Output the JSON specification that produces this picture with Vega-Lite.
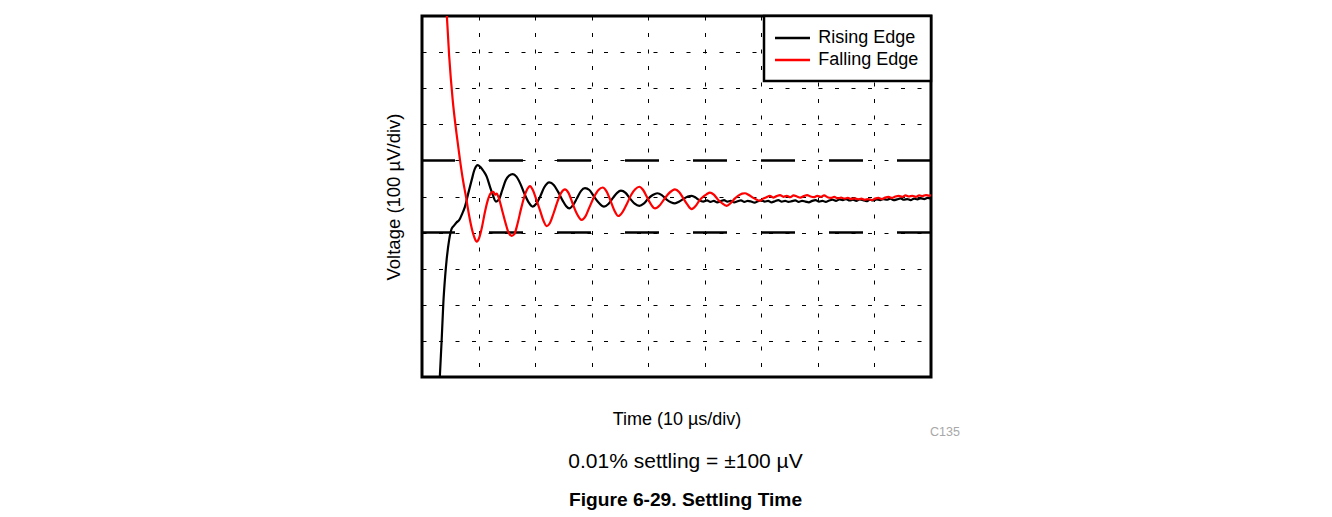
{
 "$schema": "https://vega.github.io/schema/vega-lite/v6.json",
 "width": 509,
 "height": 361,
 "autosize": {"type": "none"},
 "padding": {"left": 422, "top": 16, "right": 401, "bottom": 140},
 "background": "white",
 "config": {
  "font": "Liberation Sans",
  "view": {"stroke": "black", "strokeWidth": 3},
  "axis": {"labels": false, "ticks": false, "domain": false, "grid": true, "gridColor": "black", "gridDash": [4, 12.5], "gridWidth": 1, "gridOpacity": 1, "titleFontSize": 18, "titleFontWeight": "normal", "titleColor": "black", "titleFont": "Liberation Sans"}
 },
 "title": {"text": "0.01% settling = ±100 µV", "subtitle": "Figure 6-29. Settling Time", "orient": "bottom", "anchor": "middle", "frame": "group", "dx": 9, "font": "Liberation Sans", "fontSize": 21, "fontWeight": "normal", "color": "black", "subtitleFont": "Liberation Sans", "subtitleFontSize": 19.2, "subtitleFontWeight": "bold", "subtitleColor": "black", "offset": 12, "subtitlePadding": 19},
 "datasets": {
  "limits": [{"level": 100}, {"level": -100}],
  "notes": [{"label": "C135"}],
  "traces": [
   {"series":"Rising Edge","t":3.15,"v":-500},{"series":"Rising Edge","t":3.5,"v":-390},{"series":"Rising Edge","t":3.77,"v":-296},{"series":"Rising Edge","t":4.1,"v":-220},{"series":"Rising Edge","t":4.37,"v":-173},{"series":"Rising Edge","t":4.8,"v":-120},{"series":"Rising Edge","t":5.25,"v":-89},{"series":"Rising Edge","t":5.7,"v":-80},{"series":"Rising Edge","t":6.1,"v":-72},{"series":"Rising Edge","t":6.59,"v":-65},{"series":"Rising Edge","t":7.1,"v":-48},{"series":"Rising Edge","t":7.6,"v":-28},{"series":"Rising Edge","t":8.2,"v":10},{"series":"Rising Edge","t":8.79,"v":46},{"series":"Rising Edge","t":9.3,"v":75},{"series":"Rising Edge","t":9.85,"v":87},{"series":"Rising Edge","t":10.3,"v":82},{"series":"Rising Edge","t":10.9,"v":70},{"series":"Rising Edge","t":11.44,"v":55},{"series":"Rising Edge","t":12.0,"v":28},{"series":"Rising Edge","t":12.5,"v":5},{"series":"Rising Edge","t":13.08,"v":-14},{"series":"Rising Edge","t":13.6,"v":-8},{"series":"Rising Edge","t":14.2,"v":18},{"series":"Rising Edge","t":14.8,"v":45},{"series":"Rising Edge","t":15.4,"v":58},{"series":"Rising Edge","t":16.04,"v":62},{"series":"Rising Edge","t":16.7,"v":55},{"series":"Rising Edge","t":17.4,"v":35},{"series":"Rising Edge","t":18.1,"v":8},{"series":"Rising Edge","t":18.8,"v":-15},{"series":"Rising Edge","t":19.57,"v":-28},{"series":"Rising Edge","t":20.2,"v":-20},{"series":"Rising Edge","t":20.9,"v":0},{"series":"Rising Edge","t":21.6,"v":25},{"series":"Rising Edge","t":22.51,"v":39},{"series":"Rising Edge","t":23.3,"v":32},{"series":"Rising Edge","t":24.1,"v":12},{"series":"Rising Edge","t":24.9,"v":-12},{"series":"Rising Edge","t":25.5,"v":-27},{"series":"Rising Edge","t":26.05,"v":-33},{"series":"Rising Edge","t":26.7,"v":-24},{"series":"Rising Edge","t":27.4,"v":-5},{"series":"Rising Edge","t":28.1,"v":15},{"series":"Rising Edge","t":28.82,"v":23},{"series":"Rising Edge","t":29.6,"v":18},{"series":"Rising Edge","t":30.4,"v":0},{"series":"Rising Edge","t":31.3,"v":-18},{"series":"Rising Edge","t":32.18,"v":-28},{"series":"Rising Edge","t":33.0,"v":-20},{"series":"Rising Edge","t":33.8,"v":-3},{"series":"Rising Edge","t":34.5,"v":10},{"series":"Rising Edge","t":35.18,"v":16},{"series":"Rising Edge","t":36.0,"v":10},{"series":"Rising Edge","t":36.8,"v":-6},{"series":"Rising Edge","t":37.6,"v":-20},{"series":"Rising Edge","t":38.42,"v":-26},{"series":"Rising Edge","t":39.2,"v":-20},{"series":"Rising Edge","t":40.0,"v":-6},{"series":"Rising Edge","t":40.8,"v":4},{"series":"Rising Edge","t":41.6,"v":9},{"series":"Rising Edge","t":42.4,"v":4},{"series":"Rising Edge","t":43.2,"v":-8},{"series":"Rising Edge","t":44.0,"v":-16},{"series":"Rising Edge","t":44.73,"v":-19},{"series":"Rising Edge","t":45.5,"v":-14},{"series":"Rising Edge","t":46.3,"v":-6},{"series":"Rising Edge","t":47.0,"v":0},{"series":"Rising Edge","t":47.68,"v":2},{"series":"Rising Edge","t":48.4,"v":-3},{"series":"Rising Edge","t":49.0,"v":-10},{"series":"Rising Edge","t":49.73,"v":-14},{"series":"Rising Edge","t":50.4,"v":-11},{"series":"Rising Edge","t":51.0,"v":-15},{"series":"Rising Edge","t":51.6,"v":-12},{"series":"Rising Edge","t":52.2,"v":-16},{"series":"Rising Edge","t":52.8,"v":-13},{"series":"Rising Edge","t":53.4,"v":-10},{"series":"Rising Edge","t":54.0,"v":-14},{"series":"Rising Edge","t":54.6,"v":-12},{"series":"Rising Edge","t":55.2,"v":-16},{"series":"Rising Edge","t":55.8,"v":-13},{"series":"Rising Edge","t":56.4,"v":-11},{"series":"Rising Edge","t":57.0,"v":-15},{"series":"Rising Edge","t":57.6,"v":-12},{"series":"Rising Edge","t":58.2,"v":-14},{"series":"Rising Edge","t":58.8,"v":-17},{"series":"Rising Edge","t":59.4,"v":-13},{"series":"Rising Edge","t":60.0,"v":-11},{"series":"Rising Edge","t":60.6,"v":-14},{"series":"Rising Edge","t":61.2,"v":-12},{"series":"Rising Edge","t":61.8,"v":-16},{"series":"Rising Edge","t":62.4,"v":-13},{"series":"Rising Edge","t":63.0,"v":-10},{"series":"Rising Edge","t":63.6,"v":-14},{"series":"Rising Edge","t":64.2,"v":-12},{"series":"Rising Edge","t":64.8,"v":-15},{"series":"Rising Edge","t":65.4,"v":-13},{"series":"Rising Edge","t":66.0,"v":-11},{"series":"Rising Edge","t":66.6,"v":-15},{"series":"Rising Edge","t":67.2,"v":-12},{"series":"Rising Edge","t":67.8,"v":-14},{"series":"Rising Edge","t":68.4,"v":-16},{"series":"Rising Edge","t":69.0,"v":-12},{"series":"Rising Edge","t":69.6,"v":-10},{"series":"Rising Edge","t":70.2,"v":-14},{"series":"Rising Edge","t":70.8,"v":-12},{"series":"Rising Edge","t":71.4,"v":-15},{"series":"Rising Edge","t":72.0,"v":-11},{"series":"Rising Edge","t":72.6,"v":-9},{"series":"Rising Edge","t":73.2,"v":-12},{"series":"Rising Edge","t":73.8,"v":-8},{"series":"Rising Edge","t":74.4,"v":-10},{"series":"Rising Edge","t":75.0,"v":-7},{"series":"Rising Edge","t":75.6,"v":-11},{"series":"Rising Edge","t":76.2,"v":-9},{"series":"Rising Edge","t":76.8,"v":-12},{"series":"Rising Edge","t":77.4,"v":-8},{"series":"Rising Edge","t":78.0,"v":-10},{"series":"Rising Edge","t":78.6,"v":-13},{"series":"Rising Edge","t":79.2,"v":-9},{"series":"Rising Edge","t":79.8,"v":-11},{"series":"Rising Edge","t":80.4,"v":-8},{"series":"Rising Edge","t":81.0,"v":-10},{"series":"Rising Edge","t":81.6,"v":-7},{"series":"Rising Edge","t":82.2,"v":-9},{"series":"Rising Edge","t":82.8,"v":-6},{"series":"Rising Edge","t":83.4,"v":-10},{"series":"Rising Edge","t":84.0,"v":-8},{"series":"Rising Edge","t":84.6,"v":-5},{"series":"Rising Edge","t":85.2,"v":-9},{"series":"Rising Edge","t":85.8,"v":-7},{"series":"Rising Edge","t":86.4,"v":-10},{"series":"Rising Edge","t":87.0,"v":-6},{"series":"Rising Edge","t":87.6,"v":-8},{"series":"Rising Edge","t":88.2,"v":-5},{"series":"Rising Edge","t":88.8,"v":-7},{"series":"Rising Edge","t":89.4,"v":-4},{"series":"Rising Edge","t":90.0,"v":-6},
   {"series":"Falling Edge","t":4.25,"v":540},{"series":"Falling Edge","t":4.8,"v":390},{"series":"Falling Edge","t":5.43,"v":267},{"series":"Falling Edge","t":6.1,"v":175},{"series":"Falling Edge","t":6.72,"v":101},{"series":"Falling Edge","t":7.25,"v":45},{"series":"Falling Edge","t":7.78,"v":-1},{"series":"Falling Edge","t":8.3,"v":-50},{"series":"Falling Edge","t":8.9,"v":-95},{"series":"Falling Edge","t":9.3,"v":-115},{"series":"Falling Edge","t":9.67,"v":-125},{"series":"Falling Edge","t":10.1,"v":-115},{"series":"Falling Edge","t":10.6,"v":-85},{"series":"Falling Edge","t":11.1,"v":-45},{"series":"Falling Edge","t":11.6,"v":-12},{"series":"Falling Edge","t":12.1,"v":8},{"series":"Falling Edge","t":12.61,"v":13},{"series":"Falling Edge","t":12.9,"v":5},{"series":"Falling Edge","t":13.2,"v":8},{"series":"Falling Edge","t":13.6,"v":-5},{"series":"Falling Edge","t":14.2,"v":-40},{"series":"Falling Edge","t":14.8,"v":-75},{"series":"Falling Edge","t":15.3,"v":-100},{"series":"Falling Edge","t":15.86,"v":-109},{"series":"Falling Edge","t":16.3,"v":-105},{"series":"Falling Edge","t":16.9,"v":-75},{"series":"Falling Edge","t":17.5,"v":-35},{"series":"Falling Edge","t":18.1,"v":0},{"series":"Falling Edge","t":18.6,"v":20},{"series":"Falling Edge","t":19.09,"v":29},{"series":"Falling Edge","t":19.6,"v":18},{"series":"Falling Edge","t":20.2,"v":-8},{"series":"Falling Edge","t":20.9,"v":-40},{"series":"Falling Edge","t":21.5,"v":-68},{"series":"Falling Edge","t":22.05,"v":-82},{"series":"Falling Edge","t":22.6,"v":-74},{"series":"Falling Edge","t":23.3,"v":-45},{"series":"Falling Edge","t":24.0,"v":-12},{"series":"Falling Edge","t":24.6,"v":10},{"series":"Falling Edge","t":25.28,"v":20},{"series":"Falling Edge","t":25.9,"v":10},{"series":"Falling Edge","t":26.6,"v":-18},{"series":"Falling Edge","t":27.3,"v":-45},{"series":"Falling Edge","t":28.24,"v":-65},{"series":"Falling Edge","t":28.9,"v":-55},{"series":"Falling Edge","t":29.6,"v":-30},{"series":"Falling Edge","t":30.4,"v":-2},{"series":"Falling Edge","t":31.2,"v":18},{"series":"Falling Edge","t":31.95,"v":25},{"series":"Falling Edge","t":32.6,"v":15},{"series":"Falling Edge","t":33.3,"v":-10},{"series":"Falling Edge","t":34.0,"v":-38},{"series":"Falling Edge","t":34.71,"v":-54},{"series":"Falling Edge","t":35.5,"v":-42},{"series":"Falling Edge","t":36.3,"v":-18},{"series":"Falling Edge","t":37.0,"v":5},{"series":"Falling Edge","t":37.7,"v":20},{"series":"Falling Edge","t":38.42,"v":27},{"series":"Falling Edge","t":39.1,"v":18},{"series":"Falling Edge","t":39.8,"v":-2},{"series":"Falling Edge","t":40.5,"v":-22},{"series":"Falling Edge","t":41.2,"v":-33},{"series":"Falling Edge","t":42.0,"v":-25},{"series":"Falling Edge","t":42.8,"v":-8},{"series":"Falling Edge","t":43.6,"v":8},{"series":"Falling Edge","t":44.2,"v":16},{"series":"Falling Edge","t":44.73,"v":20},{"series":"Falling Edge","t":45.5,"v":12},{"series":"Falling Edge","t":46.2,"v":-5},{"series":"Falling Edge","t":46.9,"v":-22},{"series":"Falling Edge","t":47.68,"v":-35},{"series":"Falling Edge","t":48.4,"v":-26},{"series":"Falling Edge","t":49.0,"v":-12},{"series":"Falling Edge","t":49.6,"v":-2},{"series":"Falling Edge","t":50.3,"v":6},{"series":"Falling Edge","t":50.92,"v":11},{"series":"Falling Edge","t":51.6,"v":5},{"series":"Falling Edge","t":52.3,"v":-8},{"series":"Falling Edge","t":53.0,"v":-18},{"series":"Falling Edge","t":53.87,"v":-26},{"series":"Falling Edge","t":54.6,"v":-18},{"series":"Falling Edge","t":55.3,"v":-6},{"series":"Falling Edge","t":56.0,"v":3},{"series":"Falling Edge","t":56.6,"v":8},{"series":"Falling Edge","t":57.1,"v":9},{"series":"Falling Edge","t":57.8,"v":4},{"series":"Falling Edge","t":58.5,"v":-3},{"series":"Falling Edge","t":59.1,"v":-8},{"series":"Falling Edge","t":59.76,"v":-12},{"series":"Falling Edge","t":60.3,"v":-6},{"series":"Falling Edge","t":60.9,"v":-2},{"series":"Falling Edge","t":61.5,"v":2},{"series":"Falling Edge","t":62.1,"v":-3},{"series":"Falling Edge","t":62.7,"v":1},{"series":"Falling Edge","t":63.3,"v":4},{"series":"Falling Edge","t":63.9,"v":-1},{"series":"Falling Edge","t":64.5,"v":2},{"series":"Falling Edge","t":65.1,"v":-2},{"series":"Falling Edge","t":65.7,"v":3},{"series":"Falling Edge","t":66.3,"v":0},{"series":"Falling Edge","t":66.9,"v":-3},{"series":"Falling Edge","t":67.5,"v":1},{"series":"Falling Edge","t":68.1,"v":4},{"series":"Falling Edge","t":68.7,"v":0},{"series":"Falling Edge","t":69.3,"v":-2},{"series":"Falling Edge","t":69.9,"v":2},{"series":"Falling Edge","t":70.5,"v":-1},{"series":"Falling Edge","t":71.1,"v":3},{"series":"Falling Edge","t":71.7,"v":-2},{"series":"Falling Edge","t":72.3,"v":-4},{"series":"Falling Edge","t":72.9,"v":-1},{"series":"Falling Edge","t":73.5,"v":-5},{"series":"Falling Edge","t":74.1,"v":-3},{"series":"Falling Edge","t":74.7,"v":-6},{"series":"Falling Edge","t":75.3,"v":-4},{"series":"Falling Edge","t":75.9,"v":-7},{"series":"Falling Edge","t":76.5,"v":-5},{"series":"Falling Edge","t":77.1,"v":-8},{"series":"Falling Edge","t":77.7,"v":-6},{"series":"Falling Edge","t":78.3,"v":-9},{"series":"Falling Edge","t":78.9,"v":-7},{"series":"Falling Edge","t":79.5,"v":-10},{"series":"Falling Edge","t":80.1,"v":-6},{"series":"Falling Edge","t":80.7,"v":-4},{"series":"Falling Edge","t":81.3,"v":-7},{"series":"Falling Edge","t":81.9,"v":-3},{"series":"Falling Edge","t":82.5,"v":-1},{"series":"Falling Edge","t":83.1,"v":-4},{"series":"Falling Edge","t":83.7,"v":0},{"series":"Falling Edge","t":84.3,"v":2},{"series":"Falling Edge","t":84.9,"v":-1},{"series":"Falling Edge","t":85.5,"v":3},{"series":"Falling Edge","t":86.1,"v":0},{"series":"Falling Edge","t":86.7,"v":2},{"series":"Falling Edge","t":87.3,"v":-1},{"series":"Falling Edge","t":87.9,"v":3},{"series":"Falling Edge","t":88.5,"v":1},{"series":"Falling Edge","t":89.1,"v":4},{"series":"Falling Edge","t":89.7,"v":2},{"series":"Falling Edge","t":90.0,"v":5}
  ]
 },
 "layer": [
  {
   "data": {"name": "limits"},
   "mark": {"type": "rule", "color": "black", "strokeWidth": 2.5, "strokeDash": [34, 34]},
   "encoding": {
    "y": {"field": "level", "type": "quantitative", "scale": {"domain": [-500, 500], "nice": false, "zero": false},
      "axis": {"title": "Voltage (100 µV/div)", "values": [-400, -300, -200, -100, 0, 100, 200, 300, 400], "titlePadding": 19, "titleFontSize": 18.5}}
   }
  },
  {
   "data": {"name": "traces"},
   "mark": {"type": "line", "clip": true, "strokeWidth": 2.2, "interpolate": "monotone"},
   "encoding": {
    "x": {"field": "t", "type": "quantitative", "scale": {"domain": [0, 90], "nice": false, "zero": false},
      "axis": {"title": "Time (10 µs/div)", "values": [10, 20, 30, 40, 50, 60, 70, 80], "titlePadding": 33}},
    "y": {"field": "v", "type": "quantitative"},
    "color": {"field": "series", "type": "nominal",
      "scale": {"domain": ["Rising Edge", "Falling Edge"], "range": ["black", "#ff0000"]},
      "legend": {"title": null, "orient": "top-right", "offset": 0, "strokeColor": "black", "fillColor": "white", "padding": 12, "symbolType": "M-2,0H2", "symbolSize": 306, "symbolStrokeWidth": 2.5, "symbolOffset": 6.5, "labelOffset": 15.8, "labelFontSize": 18, "labelColor": "black", "labelFont": "Liberation Sans", "rowPadding": 3,
        "encode": {"legend": {"update": {"strokeWidth": {"value": 2.5}}}}}}
   }
  },
  {
   "data": {"name": "notes"},
   "mark": {"type": "text", "align": "left", "baseline": "middle", "dy": 55, "dx": -1, "fontSize": 12.5, "color": "#a8a8a8", "font": "Liberation Sans"},
   "encoding": {
    "text": {"field": "label", "type": "nominal"},
    "x": {"datum": 90, "type": "quantitative"},
    "y": {"datum": -500, "type": "quantitative"}
   }
  }
 ]
}
